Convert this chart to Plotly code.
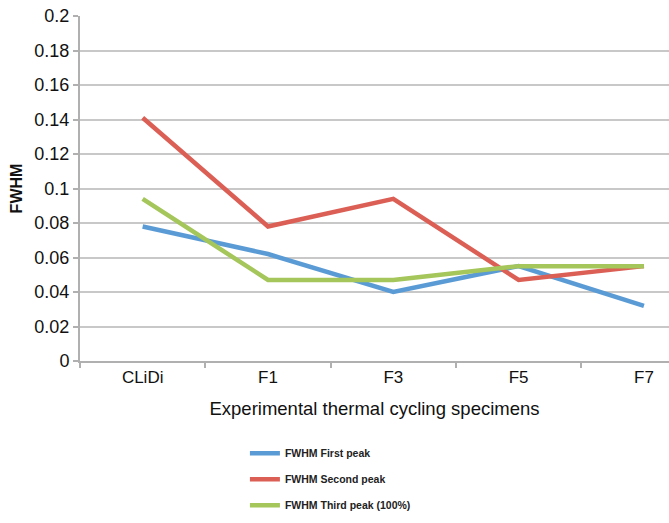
import plotly.graph_objects as go

categories = ["CLiDi", "F1", "F3", "F5", "F7"]
first_peak = [0.078, 0.062, 0.040, 0.055, 0.032]
second_peak = [0.141, 0.078, 0.094, 0.047, 0.055]
third_peak = [0.094, 0.047, 0.047, 0.055, 0.055]
series_names = ["FWHM First peak", "FWHM Second peak", "FWHM Third peak (100%)"]
colors = ["#5b9bd5", "#dc5f55", "#a4c65a"]
y_ticks = [0, 0.02, 0.04, 0.06, 0.08, 0.1, 0.12, 0.14, 0.16, 0.18, 0.2]
y_tick_text = ["0", "0.02", "0.04", "0.06", "0.08", "0.1", "0.12", "0.14", "0.16", "0.18", "0.2"]

fig = go.Figure()
for i, (name, vals) in enumerate(zip(series_names, [first_peak, second_peak, third_peak])):
    fig.add_trace(go.Scatter(x=categories, y=vals, mode="lines", name=name,
                             legendgroup=str(i),
                             line=dict(color=colors[i], width=4.5)))

font_family = "Liberation Sans Narrow, Arial Narrow, Liberation Sans, Arial"
fig.update_layout(
    width=669, height=523,
    margin=dict(l=80, r=0, t=16, b=162),
    paper_bgcolor="white", plot_bgcolor="white",
    font=dict(family=font_family, color="#111111"),
    showlegend=True,
    legend=dict(x=0.28, y=-0.225, xanchor="left", yanchor="top",
                font=dict(size=10.5, family="Liberation Sans, Arial", color="#222", weight="bold"),
                tracegroupgap=7, itemwidth=30, bgcolor="rgba(0,0,0,0)"),
    xaxis=dict(type="category", range=[-0.5, 4.2], showgrid=False,
               showline=True, linecolor="#b0b0b0", linewidth=2,
               ticks="outside", tickson="boundaries", ticklen=5, tickcolor="#b0b0b0", tickwidth=2,
               tickfont=dict(size=17, family=font_family, color="#111"),
               title=dict(text="Experimental thermal cycling specimens",
                          font=dict(size=18.5, family=font_family, color="#111"), standoff=16)),
    yaxis=dict(range=[0, 0.2], showgrid=True,
               tickvals=y_ticks, ticktext=y_tick_text,
               gridcolor="#c8c8c8", gridwidth=2,
               showline=True, linecolor="#b0b0b0", linewidth=2,
               ticks="outside", ticklen=5, tickcolor="#b0b0b0", tickwidth=2,
               tickfont=dict(size=18, family=font_family, color="#111"),
               zeroline=False,
               title=dict(text="<b>FWHM</b>", font=dict(size=16, family=font_family, color="#111"), standoff=8)),
)

fig.write_html("out.html")
